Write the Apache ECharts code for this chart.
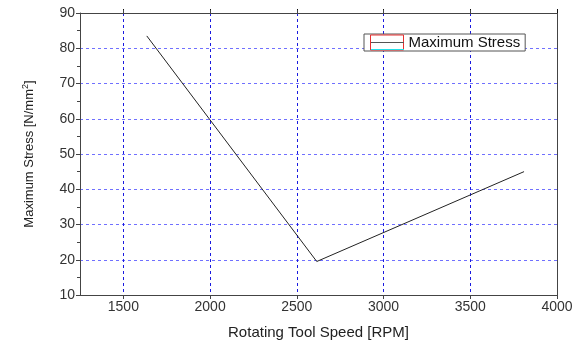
<!DOCTYPE html>
<html>
<head>
<meta charset="utf-8">
<script src="https://cdn.jsdelivr.net/npm/echarts@6/dist/echarts.min.js"></script>
<style>
  html, body { margin: 0; padding: 0; background: #fff; }
  #main { width: 580px; height: 341px; }
</style>
</head>
<body>
<div id="main"></div>
<script>
// tool speed (RPM) vs maximum stress
var speeds = [1635, 2615, 3810];
var stress = [83.5, 19.5, 45];
var seriesName = 'Maximum Stress';
var xTicks = [1500, 2000, 2500, 3000, 3500, 4000];

var chart = echarts.init(document.getElementById('main'));

var FONT = 'Liberation Sans, Arial, sans-serif';
var tickFont = { color: '#333', fontSize: 14, fontFamily: FONT };

var option = {
  animation: false,
  grid: { left: 80, right: 23, top: 13, bottom: 46, outerBoundsMode: 'none', containLabel: false },
  legend: {
    data: [seriesName],
    left: 364, top: 34,
    padding: [0, 5, 0, 6],
    backgroundColor: '#fff',
    borderColor: '#555',
    borderWidth: 1,
    borderRadius: 0,
    icon: 'rect',
    itemWidth: 33, itemHeight: 15,
    itemGap: 4,
    itemStyle: { color: '#fff', borderColor: '#e83030', borderWidth: 1 },
    textStyle: { color: '#111', fontSize: 15, lineHeight: 17, fontFamily: FONT }
  },
  graphic: [
    { type: 'line', z: 100, shape: { x1: 371, y1: 42.5, x2: 404, y2: 42.5 }, style: { stroke: '#555', lineWidth: 1 } },
    { type: 'line', z: 100, shape: { x1: 371, y1: 49.5, x2: 404, y2: 49.5 }, style: { stroke: '#22e0e8', lineWidth: 1 } }
  ],
  xAxis: [{
    type: 'value', min: 1250, max: 4000, interval: 500,
    name: 'Rotating Tool Speed [RPM]', nameLocation: 'middle', nameGap: 30,
    nameTextStyle: { color: '#222', fontSize: 15, fontFamily: FONT },
    axisLine: { show: true, onZero: false, lineStyle: { color: '#444', width: 1 } },
    axisTick: { show: true, length: 4, lineStyle: { color: '#444' }, customValues: xTicks },
    minorTick: { show: true, splitNumber: 2, length: 3, lineStyle: { color: '#444' } },
    axisLabel: Object.assign({ margin: 5, customValues: xTicks, formatter: function (v) { return String(v); } }, tickFont),
    splitLine: { show: true, lineStyle: { color: '#1a1ae0', type: [3, 3], width: 1 } }
  }, {
    type: 'value', min: 1250, max: 4000, interval: 500, position: 'top',
    axisLine: { show: true, onZero: false, lineStyle: { color: '#444', width: 1 } },
    axisTick: { show: true, length: 4, lineStyle: { color: '#111' }, customValues: xTicks },
    minorTick: { show: true, splitNumber: 2, length: 3, lineStyle: { color: '#444' } },
    axisLabel: { show: false },
    splitLine: { show: false }
  }],
  yAxis: [{
    type: 'value', min: 10, max: 90, interval: 10,
    name: 'Maximum Stress [N/mm{sup|2}]', nameLocation: 'middle', nameGap: 43,
    nameTextStyle: {
      color: '#222', fontSize: 13, fontFamily: FONT,
      rich: { sup: { fontSize: 9, fontFamily: FONT, verticalAlign: 'top', padding: [0, 0, 7, 0], color: '#222' } }
    },
    axisLine: { show: true, onZero: false, lineStyle: { color: '#444', width: 1 } },
    axisTick: { show: true, length: 4, lineStyle: { color: '#444' } },
    minorTick: { show: true, splitNumber: 2, length: 3, lineStyle: { color: '#444' } },
    axisLabel: Object.assign({ margin: 5 }, tickFont),
    splitLine: { show: true, lineStyle: { color: '#7070ff', type: [3, 3], width: 1 } }
  }, {
    type: 'value', min: 10, max: 90, interval: 10, position: 'right',
    axisLine: { show: true, onZero: false, lineStyle: { color: '#444', width: 1 } },
    axisTick: { show: false },
    axisLabel: { show: false },
    splitLine: { show: false }
  }],
  series: [{
    name: seriesName,
    type: 'line',
    data: speeds.map(function (s, i) { return [s, stress[i]]; }),
    showSymbol: false,
    symbol: 'none',
    lineStyle: { color: '#222', width: 1 },
    itemStyle: { color: '#222' }
  }]
};

chart.setOption(option);
</script>
</body>
</html>
